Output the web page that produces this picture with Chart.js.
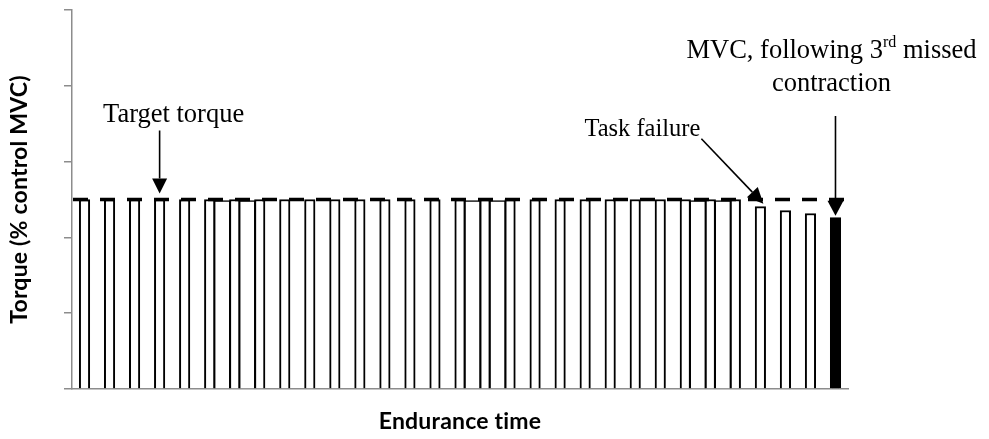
<!DOCTYPE html>
<html>
<head>
<meta charset="utf-8">
<script src="https://cdn.jsdelivr.net/npm/chart.js@4.4.0/dist/chart.umd.min.js"></script>
<style>
  html, body { margin: 0; padding: 0; background: #fff; }
  #wrap { width: 989px; height: 439px; }
</style>
</head>
<body>
<div id="wrap"><canvas id="chart"></canvas></div>
<script>
'use strict';

// ─── DATA ─────────────────────────────────────────────
const contraction = [1, 2, 3, 4, 5, 6, 7, 8, 9, 10, 11, 12, 13, 14, 15, 16,
                     17, 18, 19, 20, 21, 22, 23, 24, 25, 26, 27, 28, 29, 30, 31];
const torque = [50, 50, 50, 50, 50, 50, 50, 50, 50, 50, 50, 50, 50, 50, 50, 50,
                50, 50, 50, 50, 50, 50, 50, 50, 50, 50, 50, 48.1, 47.1, 46.3, 45.2];
// overlapping contractions that join neighbouring bars
const joinedX = [6.5, 7.5, 16.5, 17.5, 25.5, 26.5];
const joinedTorque = [49.7, 49.7, 49.7, 49.7, 49.7, 49.7];
const targetTorque = 50;
const yTicks = [0, 20, 40, 60, 80, 100];
const targetIdx = 3;
const failureIdx = 27;
const mvcIdx = 30;

const SERIF = '"Liberation Serif", "Times New Roman", serif';
const SANS = 'Lato, "Open Sans", sans-serif';
const AXIS = '#8c8c8c';

const el = (id) => document.getElementById(id);

function arrow(ctx, x1, y1, x2, y2, head, hw) {
    const a = Math.atan2(y2 - y1, x2 - x1);
    const bx = x2 - head * Math.cos(a), by = y2 - head * Math.sin(a);
    ctx.beginPath();
    ctx.moveTo(x1, y1);
    ctx.lineTo(bx, by);
    ctx.stroke();
    ctx.beginPath();
    ctx.moveTo(x2, y2);
    ctx.lineTo(bx + hw * Math.sin(a), by - hw * Math.cos(a));
    ctx.lineTo(bx - hw * Math.sin(a), by + hw * Math.cos(a));
    ctx.closePath();
    ctx.fill();
}

// ─── TARGET LINE + NOTES ──────────────────────────────
const notes = {
    id: 'notes',
    afterDatasetsDraw(chart) {
        const { ctx, chartArea: area, scales: { y } } = chart;
        const ty = y.getPixelForValue(targetTorque);
        ctx.save();
        ctx.strokeStyle = '#000';
        ctx.lineWidth = 3.3;
        ctx.setLineDash([15, 12]);
        ctx.beginPath();
        ctx.moveTo(area.left + 1, ty);
        ctx.lineTo(area.right - 2, ty);
        ctx.stroke();
        ctx.restore();
    },
    afterDraw(chart) {
        const { ctx, chartArea: area, scales: { x, y } } = chart;
        ctx.save();
        ctx.fillStyle = '#000';
        ctx.strokeStyle = '#000';
        ctx.lineWidth = 1.6;

        // Target torque
        const tx = x.getPixelForValue(contraction[targetIdx]);
        const ty = y.getPixelForValue(targetTorque) - 6;
        arrow(ctx, tx, ty - 63, tx, ty, 15, 7.5);
        ctx.font = '26.5px ' + SERIF;
        ctx.textAlign = 'center';
        ctx.textBaseline = 'alphabetic';
        ctx.fillText('Target torque', tx + 14, ty - 72);

        // Task failure
        const fx = x.getPixelForValue(contraction[failureIdx]) + 3;
        const fy = y.getPixelForValue(torque[failureIdx]) - 3;
        arrow(ctx, fx - 62, fy - 65, fx, fy, 16, 7.5);
        ctx.font = '24.5px ' + SERIF;
        ctx.textAlign = 'right';
        ctx.fillText('Task failure', fx - 63, fy - 68);

        // MVC
        const mx = x.getPixelForValue(contraction[mvcIdx]);
        const my = y.getPixelForValue(torque[mvcIdx]) - 2;
        arrow(ctx, mx, 116, mx, my, 15, 8);
        const cx = mx - 4;
        ctx.textAlign = 'left';
        const p1 = 'MVC, following 3', p2 = 'rd', p3 = ' missed';
        ctx.font = '26.5px ' + SERIF;
        const w1 = ctx.measureText(p1).width, w3 = ctx.measureText(p3).width;
        ctx.font = '16px ' + SERIF;
        const w2 = ctx.measureText(p2).width;
        const sx = cx - (w1 + w2 + w3) / 2;
        ctx.font = '26.5px ' + SERIF;
        ctx.fillText(p1, sx, 58);
        ctx.font = '16px ' + SERIF;
        ctx.fillText(p2, sx + w1, 47);
        ctx.font = '26.5px ' + SERIF;
        ctx.fillText(p3, sx + w1 + w2, 58);
        ctx.textAlign = 'center';
        ctx.fillText('contraction', cx, 91);

        // axis titles
        ctx.font = 'bold 23px ' + SANS;
        ctx.letterSpacing = '0.2px';
        ctx.textAlign = 'center';
        ctx.textBaseline = 'middle';
        ctx.fillText('Endurance time', (area.left + area.right) / 2, 422);
        ctx.translate(20, (area.top + area.bottom) / 2);
        ctx.rotate(-Math.PI / 2);
        ctx.fillText('Torque (% control MVC)', 0, 0);
        ctx.restore();
    }
};

function init() {
    new Chart(el('chart').getContext('2d'), {
        type: 'bar',
        data: {
            datasets: [{
                label: 'Torque',
                data: contraction.map((c, i) => ({ x: c, y: torque[i] })),
                backgroundColor: contraction.map((c, i) => i === mvcIdx ? '#000' : '#fff'),
                borderColor: '#000',
                borderWidth: 2,
                barThickness: 10.5,
                order: 1
            }, {
                label: 'Joined',
                data: joinedX.map((c, i) => ({ x: c, y: joinedTorque[i] })),
                backgroundColor: '#fff',
                borderColor: '#000',
                borderWidth: 1.5,
                barThickness: 16,
                order: 2
            }]
        },
        options: {
            responsive: true,
            maintainAspectRatio: false,
            animation: false,
            grouped: false,
            layout: { padding: { left: 64, top: 10, right: 141, bottom: 42 } },
            plugins: { legend: { display: false }, tooltip: { enabled: false } },
            scales: {
                x: {
                    type: 'linear',
                    min: 0.5,
                    max: 31.5,
                    offset: false,
                    grid: { display: false },
                    border: { display: true, color: AXIS, width: 1.5 },
                    ticks: { display: false }
                },
                y: {
                    min: yTicks[0],
                    max: yTicks[yTicks.length - 1],
                    afterBuildTicks: (s) => { s.ticks = yTicks.map(v => ({ value: v })); },
                    grid: { drawOnChartArea: false, drawTicks: true, tickLength: 8, color: AXIS, lineWidth: 1.5 },
                    border: { display: true, color: AXIS, width: 1.5 },
                    ticks: { display: false }
                }
            }
        },
        plugins: [notes]
    });
}

document.addEventListener('DOMContentLoaded', init);
</script>
</body>
</html>
